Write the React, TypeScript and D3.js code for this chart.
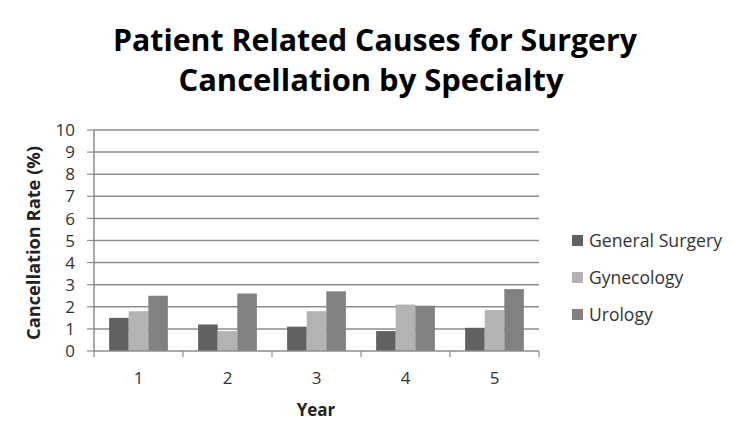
import React from "react";
import * as d3 from "d3";

const years = ["1", "2", "3", "4", "5"];
const seriesNames = ["General Surgery", "Gynecology", "Urology"];
const generalSurgery = [1.5, 1.2, 1.1, 0.9, 1.05];
const gynecology = [1.8, 0.9, 1.8, 2.1, 1.85];
const urology = [2.5, 2.6, 2.7, 2.05, 2.8];
const yTicks = [0, 1, 2, 3, 4, 5, 6, 7, 8, 9, 10];
const colors = ["#616161", "#b3b3b3", "#818181"];

const W = 734, H = 440;
const left = 94, right = 539, top = 130, bottom = 351;
const font = "'Open Sans', 'Noto Sans', sans-serif";

export default function App() {
  const series = [generalSurgery, gynecology, urology];
  const x = d3.scaleBand().domain(years).range([left, right]).paddingInner(0.34).paddingOuter(0.17);
  const xCat = d3.scaleBand().domain(years).range([left, right]);
  const xs = d3.scaleBand().domain(seriesNames).range([0, x.bandwidth()]);
  const y = d3.scaleLinear().domain([0, 10]).range([bottom, top]);
  const grid = "#8c8c8c";
  return (
    <svg width={W} height={H} style={{ position: "absolute", left: 0, top: 0, background: "#fff" }}>
      <text x={375} y={51} textAnchor="middle" fontFamily={font} fontWeight="bold" fontSize={30} fill="#000" textLength={524} lengthAdjust="spacingAndGlyphs">Patient Related Causes for Surgery</text>
      <text x={371} y={91} textAnchor="middle" fontFamily={font} fontWeight="bold" fontSize={30} fill="#000" textLength={385} lengthAdjust="spacingAndGlyphs">Cancellation by Specialty</text>
      {yTicks.map((t) => (
        <g key={t}>
          {t > 0 && <line x1={left} x2={right} y1={y(t)} y2={y(t)} stroke={grid} strokeWidth={1.5} />}
          <line x1={87} x2={left} y1={y(t)} y2={y(t)} stroke={grid} strokeWidth={1.2} />
          <text x={75} y={y(t)} dy="0.36em" textAnchor="end" fontFamily={font} fontSize={17} fill="#333">{t}</text>
        </g>
      ))}
      {years.map((yr, i) => (
        <g key={yr}>
          {series.map((s, j) => (
            <rect key={j} x={(x(yr) as number) + (xs(seriesNames[j]) as number)} y={y(s[i])} width={xs.bandwidth()} height={bottom - y(s[i])} fill={colors[j]} />
          ))}
          <text x={(xCat(yr) as number) + xCat.bandwidth() / 2} y={378} dy="0.36em" textAnchor="middle" fontFamily={font} fontSize={17} fill="#333">{yr}</text>
        </g>
      ))}
      {[...years.map((yr) => xCat(yr) as number), right].map((px, i) => (
        <line key={i} x1={px} x2={px} y1={bottom} y2={357} stroke={grid} strokeWidth={1.2} />
      ))}
      <line x1={left} x2={left} y1={top} y2={bottom} stroke={grid} strokeWidth={1.5} />
      <line x1={left} x2={right} y1={bottom} y2={bottom} stroke={grid} strokeWidth={1.5} />
      <text x={316} y={410} dy="0.36em" textAnchor="middle" fontFamily={font} fontWeight="bold" fontSize={17} fill="#222">Year</text>
      <text transform={`translate(34,243) rotate(-90)`} dy="0.36em" textAnchor="middle" fontFamily={font} fontWeight="bold" fontSize={17} fill="#222" textLength={194} lengthAdjust="spacingAndGlyphs">Cancellation Rate (%)</text>
      {seriesNames.map((n, j) => (
        <g key={n} transform={`translate(572, ${241 + j * 37})`}>
          <rect x={0} y={-6} width={11} height={11} fill={colors[j]} />
          <text x={17} y={0} dy="0.36em" fontFamily={font} fontSize={17.5} fill="#333" textLength={j === 0 ? 133 : undefined} lengthAdjust="spacingAndGlyphs">{n}</text>
        </g>
      ))}
    </svg>
  );
}
